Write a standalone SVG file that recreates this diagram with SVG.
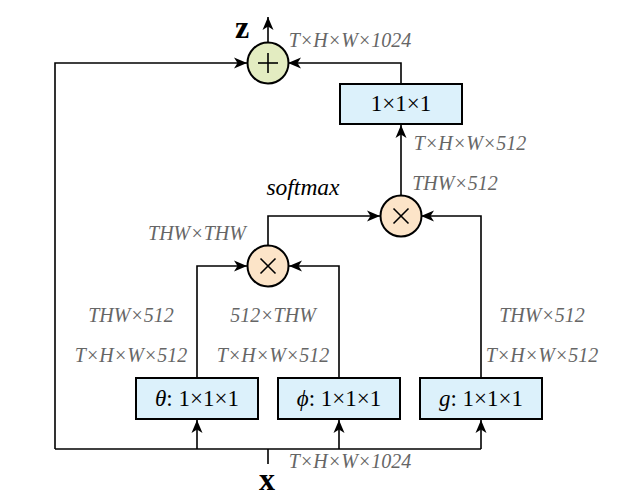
<svg xmlns="http://www.w3.org/2000/svg" width="628" height="499" viewBox="0 0 628 499">
<style>
.ln{fill:none;stroke:#000;stroke-width:1.6}
.box rect{fill:#dcf1fb;stroke:#000;stroke-width:2}
.box text{font-family:"Liberation Serif",serif;font-size:23px;text-anchor:middle;fill:#000}
.it{font-style:italic}
.lab{font-family:"Liberation Serif",serif;font-size:20px;font-style:italic;fill:#666;text-anchor:middle}
.op circle{stroke:#000;stroke-width:2}
.op line{stroke:#000;stroke-width:1.6}
.big{font-family:"Liberation Serif",serif;font-weight:bold;font-size:32px;fill:#000}
.sm{font-family:"Liberation Serif",serif;font-size:23.5px;font-style:italic;fill:#000;text-anchor:middle}
</style>
<defs>
<marker id="ah" markerUnits="userSpaceOnUse" markerWidth="14" markerHeight="12" refX="13" refY="6" orient="auto">
<path d="M0,0.5 L13,6 L0,11.5 L3.5,6 Z" fill="#000"/>
</marker>
</defs>
<g id="connectors">
<path class="ln" d="M268,464 V449"/>
<path class="ln" d="M55,449 H481"/>
<path class="ln" d="M55,449 V63 H247" marker-end="url(#ah)"/>
<path class="ln" d="M197,449 V420" marker-end="url(#ah)"/>
<path class="ln" d="M339,449 V420" marker-end="url(#ah)"/>
<path class="ln" d="M481,449 V420" marker-end="url(#ah)"/>
<path class="ln" d="M197,378 V266 H247" marker-end="url(#ah)"/>
<path class="ln" d="M339,378 V266 H289" marker-end="url(#ah)"/>
<path class="ln" d="M268,245 V216 H380" marker-end="url(#ah)"/>
<path class="ln" d="M481,378 V216 H421" marker-end="url(#ah)"/>
<path class="ln" d="M401,196 V125" marker-end="url(#ah)"/>
<path class="ln" d="M401,84 V63 H288" marker-end="url(#ah)"/>
<path class="ln" d="M268,43 V17" marker-end="url(#ah)"/>
</g>
<g id="theta" class="box"><rect x="136" y="378" width="122" height="41"/><text x="197" y="406"><tspan class="it">θ</tspan>: 1×1×1</text></g>
<g id="phi" class="box"><rect x="278" y="378" width="122" height="41"/><text x="339" y="406"><tspan class="it">ϕ</tspan>: 1×1×1</text></g>
<g id="g" class="box"><rect x="420" y="378" width="122" height="41"/><text x="481" y="406"><tspan class="it">g</tspan>: 1×1×1</text></g>
<g id="out" class="box"><rect x="340" y="84" width="122" height="40"/><text x="401" y="111">1×1×1</text></g>
<g id="mul1" class="op"><circle cx="268" cy="266" r="20.5" fill="#fce4c8"/><line x1="260.5" y1="258.5" x2="275.5" y2="273.5"/><line x1="275.5" y1="258.5" x2="260.5" y2="273.5"/></g>
<g id="mul2" class="op"><circle cx="401" cy="216" r="20.5" fill="#fce4c8"/><line x1="393.5" y1="208.5" x2="408.5" y2="223.5"/><line x1="408.5" y1="208.5" x2="393.5" y2="223.5"/></g>
<g id="add" class="op"><circle cx="268" cy="63" r="20.5" fill="#e3ecc1"/><line x1="268" y1="53" x2="268" y2="73"/><line x1="258" y1="63" x2="278" y2="63"/></g>
<g id="labels">
<text class="big" x="235" y="38">z</text>
<text class="big" x="259" y="490">x</text>
<text class="lab" x="350" y="47">T×H×W×1024</text>
<text class="lab" x="350" y="468">T×H×W×1024</text>
<text class="lab" x="470" y="150">T×H×W×512</text>
<text class="lab" x="455" y="190">THW×512</text>
<text class="sm" x="303" y="195">softmax</text>
<text class="lab" x="197" y="240">THW×THW</text>
<text class="lab" x="131" y="322">THW×512</text>
<text class="lab" x="131" y="362">T×H×W×512</text>
<text class="lab" x="273" y="322">512×THW</text>
<text class="lab" x="273" y="362">T×H×W×512</text>
<text class="lab" x="542" y="322">THW×512</text>
<text class="lab" x="542" y="362">T×H×W×512</text>
</g>
</svg>
